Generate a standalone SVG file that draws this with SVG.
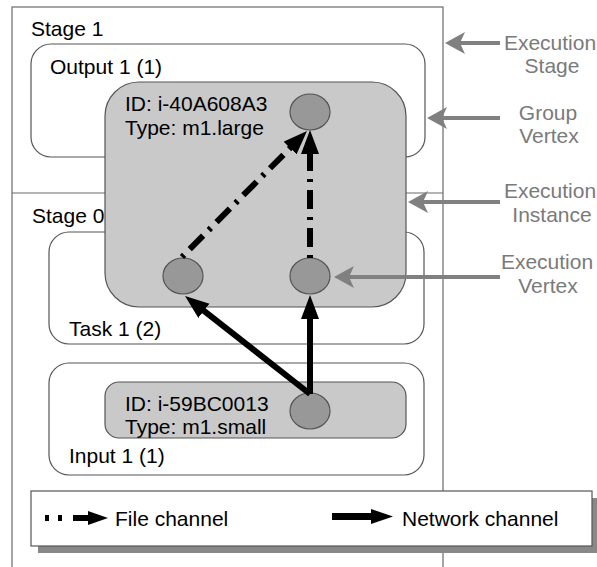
<svg xmlns="http://www.w3.org/2000/svg" width="597" height="567" viewBox="0 0 597 567">
<style>
text{font-family:"Liberation Sans",Arial,sans-serif;font-size:21px;fill:#000}
.lbl{fill:#7a7a7a;text-anchor:middle}
.frame{fill:none;stroke:#6a6a6a;stroke-width:1.2}
.vbox{fill:#fff;stroke:#555;stroke-width:1.2}
.grp{fill:#c9c9c9;stroke:#555;stroke-width:1.2}
.ev{fill:#989898;stroke:#555;stroke-width:1.2}
.net{fill:none;stroke:#000;stroke-width:6;marker-end:url(#ah)}
.file{fill:none;stroke:#000;stroke-width:6;stroke-dasharray:3 8 19 8;marker-end:url(#ah)}
.garr{stroke:#808080;stroke-width:4;fill:none;marker-end:url(#gh)}
</style>
<defs>
<marker id="ah" markerUnits="userSpaceOnUse" markerWidth="26" markerHeight="20" refX="6" refY="9" orient="auto" viewBox="0 0 26 20">
<path d="M0,0 L24,9 L0,18 z" fill="#000"/>
</marker>
<marker id="gh" markerUnits="userSpaceOnUse" markerWidth="22" markerHeight="24" refX="6" refY="11" orient="auto" viewBox="0 0 22 24">
<path d="M0,0 L20,11 L0,22 L5,11 z" fill="#808080"/>
</marker>
</defs>

<g id="stages">
<rect class="frame" x="12" y="7" width="431" height="580"/>
<line class="frame" x1="12" y1="193" x2="443" y2="193"/>
<text x="31" y="36">Stage 1</text>
<text x="32" y="223">Stage 0</text>
</g>

<g id="output1">
<rect class="vbox" x="31" y="44" width="394" height="113" rx="20"/>
<text x="50" y="74">Output 1 (1)</text>
</g>
<g id="task1">
<rect class="vbox" x="49" y="232" width="375" height="112" rx="20"/>
<text x="69" y="336">Task 1 (2)</text>
</g>
<g id="input1">
<rect class="vbox" x="49" y="363" width="375" height="112" rx="20"/>
<text x="69" y="463">Input 1 (1)</text>
</g>

<g id="group-large">
<rect class="grp" x="105" y="82" width="301" height="225" rx="34"/>
<text x="125" y="111">ID: i-40A608A3</text>
<text x="125" y="135">Type: m1.large</text>
</g>
<g id="group-small">
<rect class="grp" x="105" y="382" width="301" height="56" rx="14"/>
<text x="125" y="411">ID: i-59BC0013</text>
<text x="125" y="434">Type: m1.small</text>
</g>

<g id="v-top"><ellipse class="ev" cx="310" cy="112" rx="20" ry="18"/></g>
<g id="v-left"><ellipse class="ev" cx="183" cy="276" rx="20" ry="18"/></g>
<g id="v-right"><ellipse class="ev" cx="310" cy="276" rx="20" ry="18"/></g>
<g id="v-input"><ellipse class="ev" cx="310" cy="411" rx="20" ry="18"/></g>

<g id="connectors">
<line class="net" x1="310" y1="394" x2="199.2" y2="307.1"/>
<line class="net" x1="310" y1="394" x2="310" y2="313"/>
<line class="file" x1="182" y1="257" x2="294.3" y2="143.8"/>
<line class="file" x1="310" y1="258" x2="310" y2="148"/>
</g>

<g id="annotations">
<line class="garr" x1="500" y1="43" x2="459" y2="43"/>
<line class="garr" x1="500" y1="118" x2="441" y2="118"/>
<line class="garr" x1="500" y1="202" x2="422" y2="202"/>
<line class="garr" x1="500" y1="277" x2="348" y2="277"/>
<text class="lbl" x="550" y="50">Execution</text>
<text class="lbl" x="552" y="73">Stage</text>
<text class="lbl" x="548" y="120">Group</text>
<text class="lbl" x="549" y="143">Vertex</text>
<text class="lbl" x="550" y="198">Execution</text>
<text class="lbl" x="552" y="222">Instance</text>
<text class="lbl" x="547" y="269">Execution</text>
<text class="lbl" x="548" y="293">Vertex</text>
</g>

<g id="legend">
<rect x="38" y="498" width="559" height="55" fill="#888"/>
<rect x="31" y="491" width="561" height="55" fill="#fff" stroke="#555" stroke-width="1.2"/>
<rect x="45" y="515" width="4" height="6" fill="#000"/>
<rect x="58" y="515" width="4" height="6" fill="#000"/>
<rect x="73" y="515" width="18" height="6" fill="#000"/>
<polygon points="88,511 108,518 88,525" fill="#000"/>
<text x="115" y="526">File channel</text>
<rect x="332" y="513" width="42" height="7" fill="#000"/>
<polygon points="371,509 393,516.5 371,524" fill="#000"/>
<text x="402" y="526">Network channel</text>
</g>
</svg>
